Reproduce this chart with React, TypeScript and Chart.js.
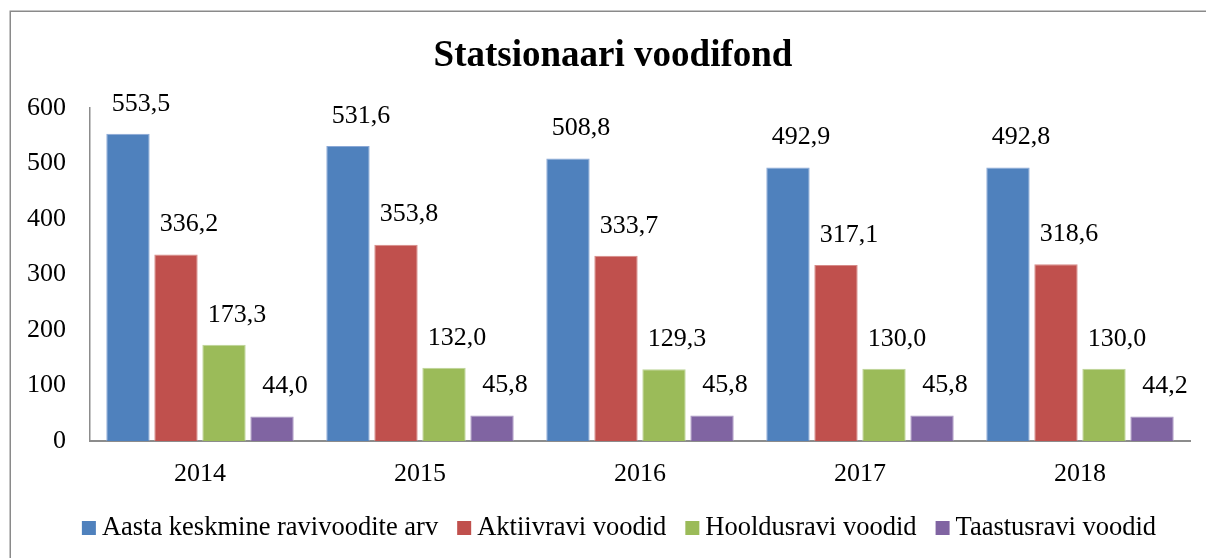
import React, { useEffect, useRef } from "react";
import { Chart, registerables } from "chart.js";

Chart.register(...registerables);

const TITLE = "Statsionaari voodifond";
const YEARS = ["2014", "2015", "2016", "2017", "2018"];
const SERIES_NAMES = [
  "Aasta keskmine ravivoodite arv",
  "Aktiivravi voodid",
  "Hooldusravi voodid",
  "Taastusravi voodid",
];
const AVG_BEDS = [553.5, 531.6, 508.8, 492.9, 492.8];
const ACTIVE_BEDS = [336.2, 353.8, 333.7, 317.1, 318.6];
const NURSING_BEDS = [173.3, 132.0, 129.3, 130.0, 130.0];
const REHAB_BEDS = [44.0, 45.8, 45.8, 45.8, 44.2];
const Y_TICKS = [0, 100, 200, 300, 400, 500, 600];

const COLORS = ["#4F81BD", "#C0504D", "#9BBB59", "#8064A2"];
const BORDERS = ["#8aa8d6", "#d68a88", "#bcd497", "#a895c2"];
const FONT = "'Liberation Serif', 'Times New Roman', serif";

const fmt = (v: number) => v.toFixed(1).replace(".", ",");

const decorPlugin = {
  id: "decor",
  beforeDraw(chart: any) {
    const ctx = chart.ctx;
    ctx.save();
    ctx.fillStyle = "#ffffff";
    ctx.fillRect(0, 0, chart.width, chart.height);
    ctx.strokeStyle = "#8a8a8a";
    ctx.lineWidth = 1.5;
    ctx.strokeRect(10.25, 11.25, 1400, 700);
    // title
    ctx.fillStyle = "#000000";
    ctx.font = `bold 37px ${FONT}`;
    ctx.textAlign = "center";
    ctx.textBaseline = "alphabetic";
    ctx.fillText(TITLE, 613, 66);
    // legend
    ctx.font = `26.5px ${FONT}`;
    const box = 14;
    const gapBox = 6;
    const spacing = 19;
    const widths = SERIES_NAMES.map((n) => ctx.measureText(n).width);
    const total =
      widths.reduce((a: number, w: number) => a + w + box + gapBox, 0) +
      spacing * (SERIES_NAMES.length - 1);
    let x = 619 - total / 2;
    const yMid = 528;
    ctx.textAlign = "left";
    ctx.textBaseline = "middle";
    SERIES_NAMES.forEach((n, i) => {
      ctx.fillStyle = COLORS[i];
      ctx.fillRect(x, yMid - box / 2, box, box);
      x += box + gapBox;
      ctx.fillStyle = "#000000";
      ctx.fillText(n, x, yMid);
      x += widths[i] + spacing;
    });
    ctx.restore();
  },
  afterDatasetsDraw(chart: any) {
    const ctx = chart.ctx;
    ctx.save();
    ctx.font = `26px ${FONT}`;
    ctx.fillStyle = "#000000";
    ctx.textAlign = "center";
    ctx.textBaseline = "middle";
    chart.data.datasets.forEach((ds: any, di: number) => {
      const meta = chart.getDatasetMeta(di);
      meta.data.forEach((el: any, i: number) => {
        ctx.fillText(fmt(ds.data[i]), el.x + 13, el.y - 30);
      });
    });
    ctx.restore();
  },
};

export default function App() {
  const ref = useRef<HTMLCanvasElement>(null);
  useEffect(() => {
    if (!ref.current) return;
    const seriesData = [AVG_BEDS, ACTIVE_BEDS, NURSING_BEDS, REHAB_BEDS];
    const chart = new Chart(ref.current, {
      type: "bar",
      data: {
        labels: YEARS,
        datasets: seriesData.map((d, i) => ({
          label: SERIES_NAMES[i],
          data: d,
          backgroundColor: COLORS[i],
          borderColor: BORDERS[i],
          borderWidth: 1,
          categoryPercentage: 0.873,
          barPercentage: 0.903,
        })),
      },
      options: {
        responsive: false,
        animation: false,
        devicePixelRatio: 1,
        layout: { padding: { left: 10, right: 16, top: 108, bottom: 77 } },
        plugins: {
          legend: { display: false },
          title: { display: false },
          tooltip: { enabled: false },
        },
        scales: {
          x: {
            grid: { display: false, drawTicks: false },
            border: { display: true, color: "#8c8c8c", width: 2 },
            ticks: {
              color: "#000",
              font: { family: FONT, size: 26 },
              padding: 18,
              maxRotation: 0,
            },
            afterFit: (s: any) => {
              s.height = 40;
            },
          },
          y: {
            min: 0,
            max: 600,
            afterBuildTicks: (s: any) => {
              s.ticks = Y_TICKS.map((v) => ({ value: v }));
            },
            grid: { display: false, drawTicks: false },
            border: { display: true, color: "#8c8c8c", width: 1.5 },
            ticks: {
              color: "#000",
              font: { family: FONT, size: 26 },
              padding: 24,
            },
            afterFit: (s: any) => {
              s.width = 80;
            },
          },
        },
      },
      plugins: [decorPlugin],
    });
    return () => chart.destroy();
  }, []);
  return (
    <div style={{ position: "fixed", left: 0, top: 0, width: 1206, height: 558 }}>
      <canvas ref={ref} width={1206} height={558} />
    </div>
  );
}
